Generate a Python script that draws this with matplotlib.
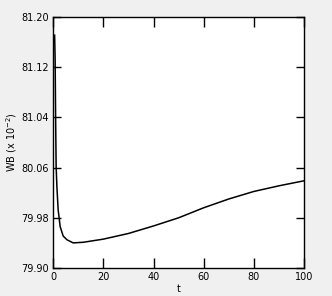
import matplotlib
matplotlib.use("Agg")
import matplotlib.pyplot as plt
import numpy as np

t = [0.6, 0.8, 1.0, 1.2, 1.5, 2.0, 2.8, 4.0, 5.5, 8.0, 12, 20, 30, 40, 50, 60, 70, 80, 90, 100]
wb = [80.271, 80.233, 80.137, 80.062, 80.030, 79.993, 79.966, 79.951, 79.945, 79.940,
      79.941, 79.946, 79.955, 79.967, 79.980, 79.996, 80.010, 80.022, 80.031, 80.039]
ytick_vals = [79.90, 79.98, 80.06, 80.14, 80.22, 80.30]
ytick_labels = ["79.90", "79.98", "80.06", "81.04", "81.12", "81.20"]
xtick_vals = [0, 20, 40, 60, 80, 100]
xtick_labels = ["0", "20", "40", "60", "80", "100"]

fig = plt.figure(figsize=(3.32, 2.96), dpi=100, facecolor="#f0f0f0")
ax = fig.add_axes([0.16, 0.0946, 0.756, 0.848])
ax.set_facecolor("white")
ax.plot(t, wb, color="black", lw=1.1)
ax.set_xlim(0, 100)
ax.set_ylim(79.90, 80.30)
ax.set_xticks(xtick_vals)
ax.set_xticklabels(xtick_labels, fontsize=7)
ax.set_yticks(ytick_vals)
ax.set_yticklabels(ytick_labels, fontsize=7)
ax.tick_params(axis="x", direction="in", length=7, width=1, top=True, pad=3)
ax.tick_params(axis="y", direction="in", length=6, width=1, right=True, pad=3)
for s in ax.spines.values():
    s.set_linewidth(1)
ax.set_xlabel("t", fontsize=7, labelpad=1)
ax.set_ylabel(r"WB (x 10$^{-2}$)", fontsize=7)
ax.yaxis.set_label_coords(-0.135, 0.5)
fig.savefig("out.png", dpi=100, facecolor=fig.get_facecolor())
